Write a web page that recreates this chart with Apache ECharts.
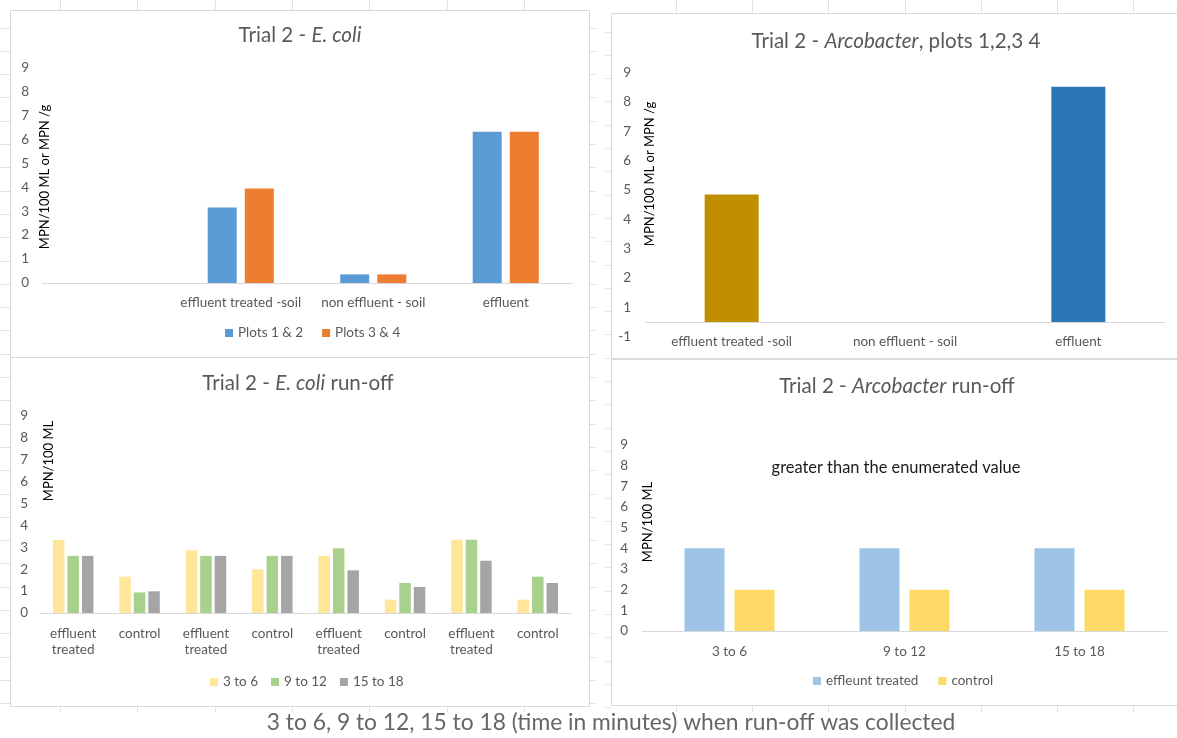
<!DOCTYPE html>
<html><head><meta charset="utf-8">
<script src="https://cdn.jsdelivr.net/npm/echarts@6/dist/echarts.min.js"></script>
<style>html,body{margin:0;padding:0;background:#fff}#c{width:1177px;height:738px}</style>
</head><body><div id="c"></div>
<script>
// ---------- data ----------
const ecoliCats = ['', 'effluent treated -soil', 'non effluent - soil', 'effluent'];
const ecoliPlots12 = [null, 3.15, 0.36, 6.32];
const ecoliPlots34 = [null, 3.95, 0.36, 6.32];

const arcoCats = ['effluent treated -soil', 'non effluent - soil', 'effluent'];
const arcoValues = [4.85, null, 8.52];
const arcoTickLabels = ['-1', '1', '2', '3', '4', '5', '6', '7', '8', '9'];
const ARCO_AXIS_CROSS = 0.5; // horizontal axis crosses the value axis here

const ecoliRunCats = ['effluent\ntreated', 'control', 'effluent\ntreated', 'control', 'effluent\ntreated', 'control', 'effluent\ntreated', 'control'];
const run3to6   = [3.35, 1.66, 2.86, 2.00, 2.61, 0.61, 3.35, 0.61];
const run9to12  = [2.61, 0.94, 2.61, 2.61, 2.96, 1.37, 3.35, 1.66];
const run15to18 = [2.61, 0.99, 2.61, 2.61, 1.95, 1.19, 2.39, 1.37];

const arcoRunCats = ['3 to 6', '9 to 12', '15 to 18'];
const arcoRunTreated = [4, 4, 4];
const arcoRunControl = [2, 2, 2];

// ---------- styling ----------
const FONT = 'Lato, "Open Sans", sans-serif';
const GREY = '#595959';
const AXIS = '#d9d9d9';
const chart = echarts.init(document.getElementById('c'), null, {renderer: 'canvas'});

function catAxis(grid, data, margin, extra) {
  return Object.assign({
    gridIndex: grid, type: 'category', data: data,
    axisTick: {show: false},
    axisLine: {lineStyle: {color: AXIS, width: 1}},
    axisLabel: {interval: 0, margin: margin, color: GREY, fontSize: 13.5, fontFamily: FONT, lineHeight: 16.5}
  }, extra || {});
}
function valAxis(grid, margin, formatter) {
  return {
    gridIndex: grid, type: 'value', min: 0, max: 9, interval: 1,
    splitLine: {show: false}, axisLine: {show: false}, axisTick: {show: false},
    axisLabel: {margin: margin, color: GREY, fontSize: 13.5, fontFamily: FONT, formatter: formatter}
  };
}

// ---------- decorations (panel frames, sheet marks, texts) ----------
const graphics = [];
function frame(x, y, w, h) {
  graphics.push({type: 'rect', silent: true, shape: {x: x + 0.5, y: y + 0.5, width: w, height: h},
    style: {fill: '#fff', stroke: AXIS, lineWidth: 1}, z: -10});
}
function mark(x1, y1, x2, y2) {
  graphics.push({type: 'line', silent: true, shape: {x1: x1, y1: y1, x2: x2, y2: y2},
    style: {stroke: '#e2e2e2', lineWidth: 1}, z: -20});
}
// sheet grid marks
for (let y = 27.5; y < 705; y += 23.3) {
  const r = Math.round(y) + 0.5;
  mark(0, r, 10, r);
  mark(590, r, 596, r);
  mark(605, r + 4, 611, r + 4);
}
[60, 137, 215, 292, 369, 447, 524].forEach(x => { mark(x + 0.5, 0, x + 0.5, 10); mark(x + 0.5, 706, x + 0.5, 712); });
[676, 752, 828, 905, 981, 1057, 1133].forEach(x => { mark(x + 0.5, 0, x + 0.5, 13); mark(x + 0.5, 705, x + 0.5, 712); });
frame(10, 10, 579, 347);
frame(611, 13, 600, 345);
frame(10, 357, 579, 349);
frame(611, 359, 600, 346);

function text(x, y, str, size, color, opts) {
  graphics.push(Object.assign({type: 'text', silent: true, x: x, y: y, z: 10,
    style: Object.assign({text: str, fontSize: size, fontFamily: FONT, fill: color, align: 'center', verticalAlign: 'middle'}, (opts && opts.style) || {})},
    (opts && opts.el) || {}));
}
const TS = 20.6;
function richTitle(x, y, parts) {
  graphics.push({type: 'text', silent: true, x: x, y: y, z: 10,
    style: {text: parts, fontSize: TS, fontFamily: FONT, fill: GREY, align: 'center', verticalAlign: 'middle',
      rich: {n: {fontSize: TS, fontFamily: FONT, fill: GREY, color: GREY},
             i: {fontSize: TS, fontFamily: FONT, fontStyle: 'italic', fill: GREY, color: GREY}}}});
}
richTitle(300, 35, '{n|Trial 2 - }{i|E. coli}');
richTitle(896, 41, '{n|Trial 2 - }{i|Arcobacter}{n|, plots 1,2,3 4}');
richTitle(298, 383, '{n|Trial 2 - }{i|E. coli}{n| run-off}');
richTitle(897, 386, '{n|Trial 2 - }{i|Arcobacter}{n| run-off}');

const rot = {el: {rotation: Math.PI / 2}};
text(45, 177, 'MPN/100 ML or MPN /g', 13, '#000', rot);
text(650, 174, 'MPN/100 ML or MPN /g', 13, '#000', rot);
text(49, 461, 'MPN/100 ML', 13, '#000', rot);
text(648, 522, 'MPN/100 ML', 13, '#000', rot);
text(896, 468, 'greater than the enumerated value', 16.4, '#1a1a1a');
text(611, 723, '3 to 6, 9 to 12, 15 to 18 (time in minutes) when run-off was collected', 22.8, '#666666');

const legendBase = {icon: 'rect', itemWidth: 8, itemHeight: 8, padding: 0,
  textStyle: {color: GREY, fontSize: 13.5, fontFamily: FONT}, selectedMode: false};

const option = {
  animation: false,
  backgroundColor: '#fff',
  graphic: graphics,
  grid: [
    {left: 42, top: 67.5, width: 530, height: 215.5},
    {left: 645, top: 72.7, width: 520, height: 264},
    {left: 40, top: 416, width: 531, height: 197},
    {left: 642, top: 445, width: 525, height: 186}
  ],
  xAxis: [
    catAxis(0, ecoliCats, 11),
    catAxis(1, arcoCats, -3, {axisLine: {show: false}}),
    catAxis(2, ecoliRunCats, 12),
    catAxis(3, arcoRunCats, 12)
  ],
  yAxis: [
    valAxis(0, 13),
    valAxis(1, 14, v => arcoTickLabels[Math.round(v)]),
    valAxis(2, 12),
    valAxis(3, 14)
  ],
  legend: [
    Object.assign({left: 225, top: 326, itemGap: 19, data: ['Plots 1 & 2', 'Plots 3 & 4']}, legendBase),
    Object.assign({left: 210, top: 675, itemGap: 13, data: ['3 to 6', '9 to 12', '15 to 18']}, legendBase),
    Object.assign({left: 813, top: 674, itemGap: 20, data: ['effleunt treated', 'control']}, legendBase)
  ],
  series: [
    {name: 'Plots 1 & 2', type: 'bar', xAxisIndex: 0, yAxisIndex: 0, data: ecoliPlots12,
      barWidth: 29, barGap: '28%', itemStyle: {color: '#5B9BD5'}},
    {name: 'Plots 3 & 4', type: 'bar', xAxisIndex: 0, yAxisIndex: 0, data: ecoliPlots34,
      barWidth: 29, barGap: '28%', itemStyle: {color: '#ED7D31'}},

    {name: 'axis-cross', type: 'bar', stack: 'arco', xAxisIndex: 1, yAxisIndex: 1,
      data: arcoValues.map(v => v == null ? null : ARCO_AXIS_CROSS), barWidth: 54,
      itemStyle: {color: 'rgba(0,0,0,0)'}, silent: true,
      markLine: {silent: true, symbol: 'none', label: {show: false},
        lineStyle: {color: AXIS, type: 'solid', width: 1}, data: [{yAxis: ARCO_AXIS_CROSS}]}},
    {name: 'Arcobacter', type: 'bar', stack: 'arco', xAxisIndex: 1, yAxisIndex: 1,
      data: arcoValues.map((v, i) => v == null ? null :
        {value: v - ARCO_AXIS_CROSS, itemStyle: {color: i === 0 ? '#BF8F00' : '#2E75B6'}}),
      barWidth: 54},

    {name: '3 to 6', type: 'bar', xAxisIndex: 2, yAxisIndex: 2, data: run3to6,
      barWidth: 11.5, barGap: '26%', itemStyle: {color: '#FFE699'}},
    {name: '9 to 12', type: 'bar', xAxisIndex: 2, yAxisIndex: 2, data: run9to12,
      barWidth: 11.5, barGap: '26%', itemStyle: {color: '#A9D18E'}},
    {name: '15 to 18', type: 'bar', xAxisIndex: 2, yAxisIndex: 2, data: run15to18,
      barWidth: 11.5, barGap: '26%', itemStyle: {color: '#A5A5A5'}},

    {name: 'effleunt treated', type: 'bar', xAxisIndex: 3, yAxisIndex: 3, data: arcoRunTreated,
      barWidth: 40, barGap: '25%', itemStyle: {color: '#9DC3E6'}},
    {name: 'control', type: 'bar', xAxisIndex: 3, yAxisIndex: 3, data: arcoRunControl,
      barWidth: 40, barGap: '25%', itemStyle: {color: '#FFD966'}}
  ]
};
chart.setOption(option);
</script>
</body></html>
